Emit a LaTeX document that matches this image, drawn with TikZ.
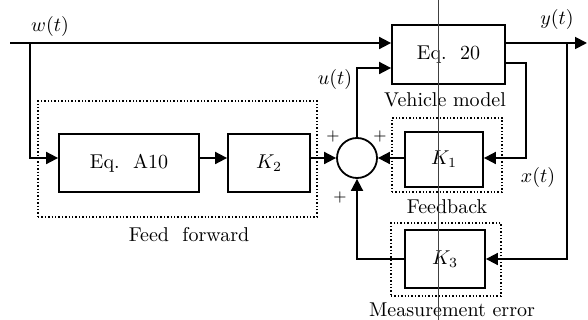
\documentclass[tikz,border=0pt]{standalone}
\usetikzlibrary{arrows.meta}
\begin{document}
\begin{tikzpicture}[x=0.5pt,y=-0.5pt,
  blk/.style={draw, line width=0.9pt, inner sep=0pt},
  grp/.style={draw, densely dotted, line width=0.7pt, inner sep=0pt},
  conn/.style={line width=0.9pt},
  arr/.style={conn, -{Triangle[length=6pt,width=6pt]}},
  lbl/.style={inner sep=0pt},
  pls/.style={inner sep=0pt, font=\footnotesize}]
\useasboundingbox (0,0) rectangle (588,320);
% blocks
\node[blk, minimum width=56.5pt, minimum height=29.5pt] (eq20) at (448.5,54.5) {Eq.~~20};
\node[blk, minimum width=70pt, minimum height=29pt] (eqa) at (129,163) {Eq.~~A10};
\node[blk, minimum width=41pt, minimum height=29pt] (k2) at (269,163) {$K_2$};
\node[draw, circle, line width=0.9pt, minimum size=20pt, inner sep=0pt] (sum) at (357,158) {};
\node[blk, minimum width=39pt, minimum height=27.5pt] (k1) at (444,159.5) {$K_1$};
\node[blk, minimum width=40pt, minimum height=29pt] (k3) at (445,259) {$K_3$};
% groups
\node[grp, minimum width=139.5pt, minimum height=58pt] (ff) at (177.5,159) {};
\node[grp, minimum width=55pt, minimum height=37pt] (fb) at (447,155) {};
\node[grp, minimum width=55pt, minimum height=36.5pt] (me) at (446,259.5) {};
% coordinates
\coordinate (win) at (10,43);
\coordinate (wb) at (30,43);
\coordinate (yout) at (587,43);
\coordinate (yb) at (567,43);
\coordinate (xc) at (526,158);
% connectors
\draw[arr] (win) -- (eq20.west |- win);
\draw[arr] (wb) |- (eqa.west |- sum);
\draw[arr] (eqa.east |- sum) -- (k2.west |- sum);
\draw[arr] (k2.east |- sum) -- (sum.west);
\draw[arr] (sum.north) |- ([yshift=-6.75pt]eq20.west);
\draw[arr] ([yshift=5.75pt]eq20.east) -- (yout);
\draw[arr] (yb) |- (k3.east);
\draw[arr] ([yshift=-4.25pt]eq20.east) -| (xc) -- (k1.east |- xc);
\draw[arr] (k1.west |- sum) -- (sum.east);
\draw[arr] (k3.west) -| (sum.south);
% labels
\node[lbl] (lw) at (50,27) {$w(t)$};
\node[lbl] (ly) at (557,20) {$y(t)$};
\node[lbl] (lu) at (335,80) {$u(t)$};
\node[lbl] (lx) at (538,178) {$x(t)$};
\node[lbl] (lvm) at (445,100) {Vehicle model};
\node[lbl] (lfb) at (447,207) {Feedback};
\node[lbl] (lme) at (452,310) {Measurement error};
\node[lbl] (lff) at (189,235) {Feed~~forward};
\node[pls] (p1) at (333,137) {$+$};
\node[pls] (p2) at (380,137) {$+$};
\node[pls] (p3) at (340,197) {$+$};
% scan line
\draw[line width=0.4pt, black!75] (438,0) -- (438,320);
\end{tikzpicture}
\end{document}
